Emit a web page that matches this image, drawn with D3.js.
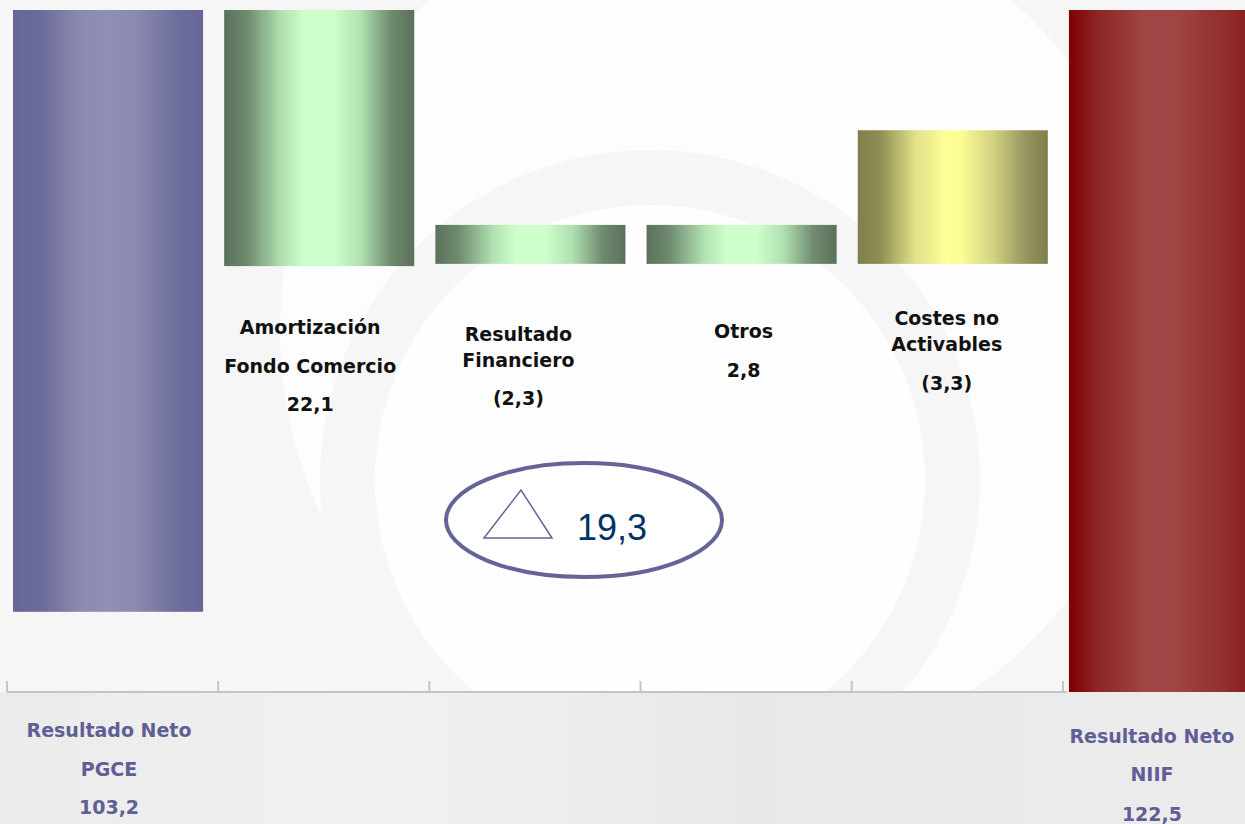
<!DOCTYPE html>
<html><head><meta charset="utf-8">
<script src="https://cdn.jsdelivr.net/npm/d3@7"></script>
<style>html,body{margin:0;padding:0;background:#fff;overflow:hidden}</style>
</head><body>
<svg id="chart" width="1245" height="824"></svg>
<script>
// ---- data ----
const categories = ["PGCE","Amortización Fondo Comercio","Resultado Financiero","Otros","Costes no Activables","NIIF"];
const labelLines = [
  ["Resultado Neto","PGCE","103,2"],
  ["Amortización","Fondo Comercio","22,1"],
  ["Resultado","Financiero","(2,3)"],
  ["Otros","2,8"],
  ["Costes no","Activables","(3,3)"],
  ["Resultado Neto","NIIF","122,5"]
];
const values = [103.2, 22.1, -2.3, 2.8, -3.3, 122.5];
// bar extents as drawn in the (schematic) picture, in chart units
const barBottom = [14.4, 76.5, 76.9, 76.9, 76.9, 0];
const barTop    = [122.5, 122.5, 83.9, 83.9, 100.9, 122.5];
const kinds     = ["total","up","up","up","mid","end"];
const deltaLabel = "19,3";

// ---- layout ----
const svg = d3.select("#chart");
const W = 1245, H = 824;
const x = d3.scaleBand().domain(categories).range([13, 1259]).paddingInner(0.1).paddingOuter(0);
const y = d3.scaleLinear().domain([0, 122.5]).range([692, 10]);

const defs = svg.append("defs");
function grad(id, stops){
  const g = defs.append("linearGradient").attr("id", id).attr("x1","0%").attr("x2","100%").attr("y1","0%").attr("y2","0%");
  stops.forEach(s => g.append("stop").attr("offset", s[0]).attr("stop-color", s[1]));
}
grad("g-total", [["0%","#666699"],["15%","#6c6c9b"],["35%","#8a8ab0"],["50%","#9090b4"],["65%","#8a8ab0"],["85%","#6f6f9d"],["100%","#666699"]]);
grad("g-up", [["0%","#5a715a"],["12%","#6f8a6f"],["30%","#b0e0b0"],["42%","#ccffcc"],["58%","#ccffcc"],["72%","#b0e0b0"],["88%","#6f8a6f"],["100%","#5a715a"]]);
grad("g-mid", [["0%","#7f7f4c"],["12%","#8f8f55"],["30%","#e0e088"],["47%","#ffff99"],["55%","#fbfb96"],["72%","#d0d080"],["88%","#969660"],["100%","#7f7f4c"]]);
grad("g-end", [["0%","#800000"],["15%","#8c2525"],["40%","#a04545"],["55%","#a04545"],["80%","#923030"],["100%","#881818"]]);
grad("g-bottom", [["0%","#ebebeb"],["30%","#f1f1f1"],["60%","#e8e8e8"],["100%","#ececec"]]);

// ---- faint background watermark ----
svg.append("rect").attr("width", W).attr("height", H).attr("fill", "#f6f6f6");
svg.append("circle").attr("cx", 720).attr("cy", 330).attr("r", 440).attr("fill", "#fdfdfd");
svg.append("circle").attr("cx", 650).attr("cy", 480).attr("r", 330).attr("fill", "#f6f6f6");
svg.append("circle").attr("cx", 650).attr("cy", 480).attr("r", 275).attr("fill", "#fefefe");
svg.append("rect").attr("x", 0).attr("y", 692).attr("width", W).attr("height", H-692).attr("fill", "url(#g-bottom)");

// ---- bars ----
svg.append("g").selectAll("rect").data(categories).join("rect")
  .attr("x", d => x(d))
  .attr("width", x.bandwidth())
  .attr("y", (d,i) => y(barTop[i]))
  .attr("height", (d,i) => y(barBottom[i]) - y(barTop[i]))
  .attr("fill", (d,i) => "url(#g-" + kinds[i] + ")");

// ---- axis ----
const ax = svg.append("g").attr("stroke", "#c4c4c4").attr("stroke-width", 2);
const tickX = categories.map(c => x(c) - 6);
ax.append("line").attr("x1", tickX[0]).attr("x2", tickX[5] + 4).attr("y1", y(0)).attr("y2", y(0));
ax.selectAll("line.t").data(tickX).join("line").attr("class","t")
  .attr("x1", d => d).attr("x2", d => d).attr("y1", y(0)).attr("y2", y(0) - 11);

// ---- labels ----
const font = "'DejaVu Sans', Verdana, sans-serif";
const labelShift = [1, -9, -12, 2, -6, -5];
const innerBase = [[334,373,411],[341,367,405],[338,377],[325,351,390]];
for (let i = 1; i <= 4; i++) {
  const cx = x(categories[i]) + x.bandwidth()/2 + labelShift[i];
  labelLines[i].forEach((t, j) => {
    svg.append("text").attr("x", cx).attr("y", innerBase[i-1][j])
      .attr("text-anchor","middle").attr("font-family", font).attr("font-weight","bold")
      .attr("font-size", 19).attr("fill", "#111").text(t);
  });
}
const outerBase = {0:[737,776,814], 5:[743,781,821]};
[0,5].forEach(i => {
  const cx = i === 0 ? x(categories[0]) + x.bandwidth()/2 + labelShift[0]
                     : x(categories[5]) + 83;
  labelLines[i].forEach((t, j) => {
    svg.append("text").attr("x", cx).attr("y", outerBase[i][j])
      .attr("text-anchor","middle").attr("font-family", font).attr("font-weight","bold")
      .attr("font-size", 19).attr("fill", "#5f5f96").text(t);
  });
});

// ---- delta ellipse ----
svg.append("ellipse").attr("cx", 584).attr("cy", 520).attr("rx", 138).attr("ry", 57)
  .attr("fill", "#ffffff").attr("stroke", "#646496").attr("stroke-width", 4);
svg.append("path").attr("d", "M484,538 L552,538 L521,490 Z")
  .attr("fill", "none").attr("stroke", "#646496").attr("stroke-width", 1.5);
svg.append("text").attr("x", 577).attr("y", 540).attr("font-family", "'Liberation Sans', Arial, sans-serif")
  .attr("font-size", 36).attr("fill", "#003366").text(deltaLabel);
</script>
</body></html>
